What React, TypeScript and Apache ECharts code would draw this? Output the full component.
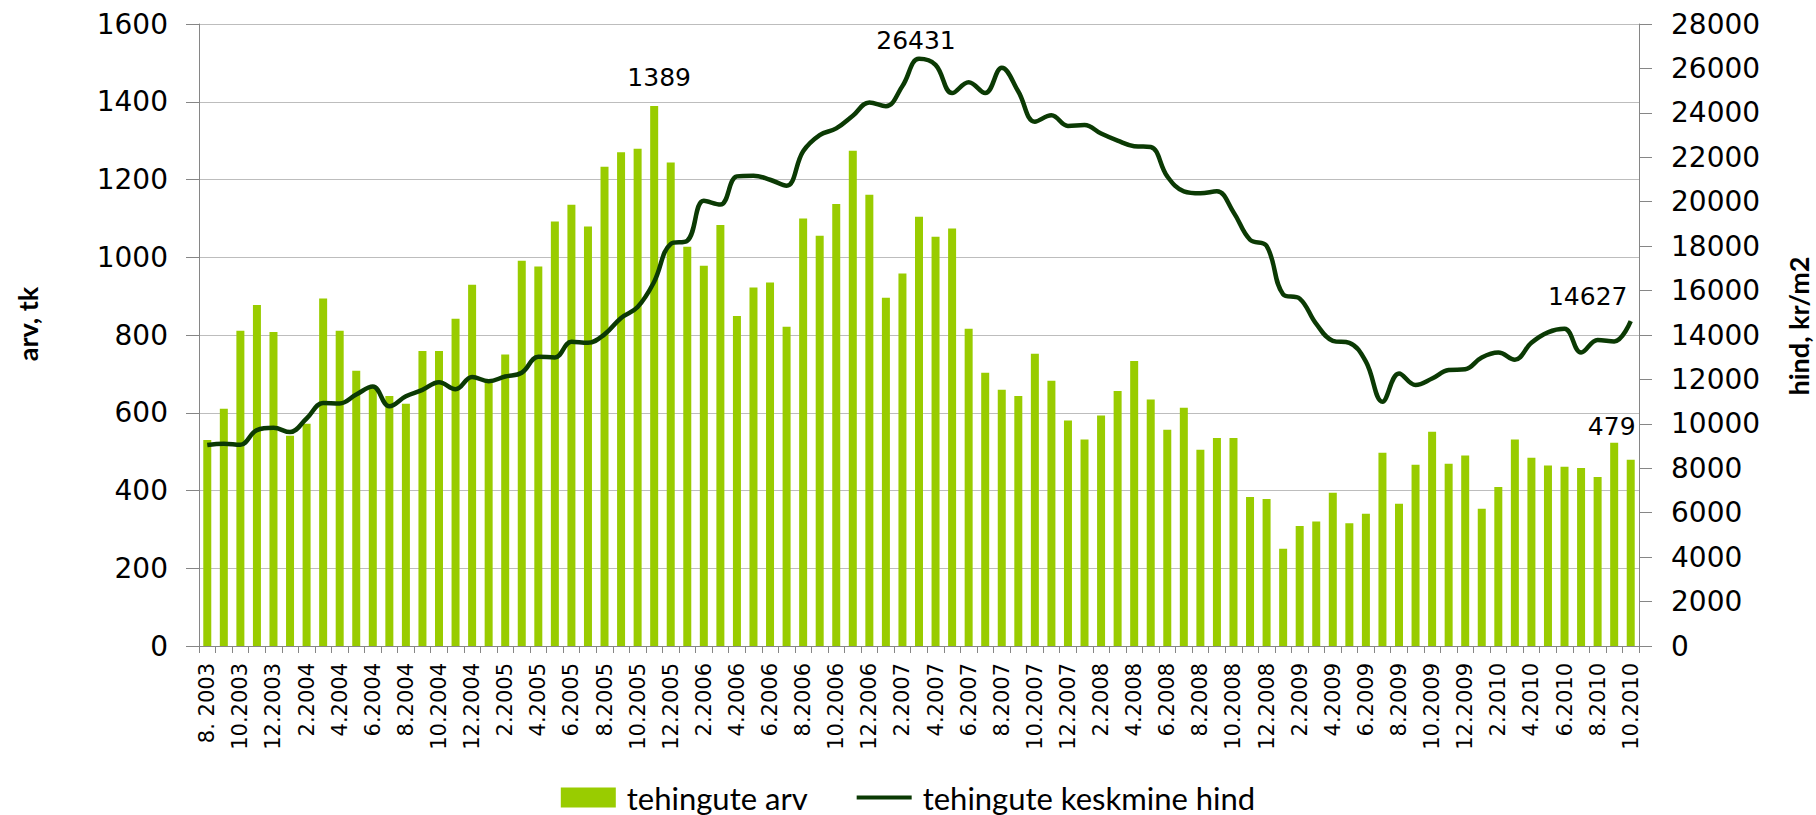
import React, { useEffect, useRef } from "react";
import * as echarts from "echarts";

const categories: string[] = [
  "8. 2003", "9.2003", "10.2003", "11.2003", "12.2003",
  "1.2004", "2.2004", "3.2004", "4.2004", "5.2004", "6.2004", "7.2004", "8.2004", "9.2004", "10.2004", "11.2004", "12.2004",
  "1.2005", "2.2005", "3.2005", "4.2005", "5.2005", "6.2005", "7.2005", "8.2005", "9.2005", "10.2005", "11.2005", "12.2005",
  "1.2006", "2.2006", "3.2006", "4.2006", "5.2006", "6.2006", "7.2006", "8.2006", "9.2006", "10.2006", "11.2006", "12.2006",
  "1.2007", "2.2007", "3.2007", "4.2007", "5.2007", "6.2007", "7.2007", "8.2007", "9.2007", "10.2007", "11.2007", "12.2007",
  "1.2008", "2.2008", "3.2008", "4.2008", "5.2008", "6.2008", "7.2008", "8.2008", "9.2008", "10.2008", "11.2008", "12.2008",
  "1.2009", "2.2009", "3.2009", "4.2009", "5.2009", "6.2009", "7.2009", "8.2009", "9.2009", "10.2009", "11.2009", "12.2009",
  "1.2010", "2.2010", "3.2010", "4.2010", "5.2010", "6.2010", "7.2010", "8.2010", "9.2010", "10.2010",
];

// tehingute arv (count of transactions)
const dealCount: number[] = [
  530, 610, 811, 877, 808,
  541, 572, 894, 811, 708, 668, 643, 623, 759, 759, 842, 929,
  682, 750, 991, 976, 1092, 1135, 1079, 1233, 1270, 1279, 1389, 1244,
  1027, 978, 1083, 849, 922, 935, 821, 1100, 1055, 1137, 1274, 1161,
  896, 958, 1104, 1053, 1074, 816, 703, 659, 643, 752, 682, 580,
  531, 593, 656, 733, 634, 556, 613, 505, 535, 535, 383, 378,
  250, 309, 320, 394, 316, 340, 497, 366, 466, 551, 469, 490,
  353, 409, 531, 484, 464, 461, 458, 435, 523, 479,
];

// tehingute keskmine hind (average price, kr/m2)
const avgPrice: number[] = [
  9050, 9110, 9060, 9720, 9820,
  9630, 10240, 10940, 10920, 11320, 11680, 10790, 11240, 11530, 11870, 11560, 12110,
  11920, 12130, 12300, 13020, 12990, 13700, 13650, 14030, 14770, 15260, 16400, 18100,
  18240, 20040, 19870, 21140, 21170, 20990, 20720, 22270, 23000, 23300, 23870, 24470,
  24300, 25210, 26431, 26160, 24890, 25380, 24890, 26030, 24960, 23600, 23890, 23410,
  23450, 23070, 22750, 22500, 22460, 21140, 20470, 20380, 20470, 19530, 18290, 18010,
  15830, 15640, 14500, 13740, 13650, 12800, 11000, 12270, 11750, 12040, 12420, 12460,
  12990, 13210, 12890, 13650, 14120, 14280, 13210, 13780, 13710, 14627,
];

const leftTicks = { min: 0, max: 1600, interval: 200 };
const rightTicks = { min: 0, max: 28000, interval: 2000 };

const seriesNames = ["tehingute arv", "tehingute keskmine hind"];
const leftAxisName = "arv, tk";
const rightAxisName = "hind, kr/m2";

const BAR_COLOR = "#99CC00";
const LINE_COLOR = "#0B3A04";
const AXIS_COLOR = "#868686";
const GRID_COLOR = "#BDBDBD";

const valueFont = "DejaVu Sans";

export default function App() {
  const ref = useRef<HTMLDivElement>(null);

  useEffect(() => {
    if (!ref.current) return;
    const chart = echarts.init(ref.current, null, { renderer: "svg" });

    const maxBarIdx = dealCount.indexOf(Math.max(...dealCount));
    const lastIdx = dealCount.length - 1;
    const maxLineIdx = avgPrice.indexOf(Math.max(...avgPrice));

    const labelStyle = {
      show: true,
      position: "top",
      fontFamily: valueFont,
      fontSize: 25,
      color: "#000",
    };

    const barData = dealCount.map((v, i) => {
      if (i === maxBarIdx) return { value: v, label: { ...labelStyle, offset: [5, -11] } };
      if (i === lastIdx) return { value: v, label: { ...labelStyle, offset: [-19, -16] } };
      return v;
    });
    const lineData = avgPrice.map((v, i) => {
      if (i === maxLineIdx) return { value: v, label: { ...labelStyle, offset: [-3, -1] } };
      if (i === lastIdx) return { value: v, label: { ...labelStyle, offset: [-43, -7] } };
      return v;
    });

    const plain = (v: number) => String(v);

    const nameStyle = {
      fontFamily: "Lato",
      fontWeight: "bold",
      fontSize: 27,
      fill: "#000",
      textAlign: "center",
      textVerticalAlign: "middle",
    };

    chart.setOption({
      animation: false,
      backgroundColor: "#ffffff",
      grid: { left: 199, right: 177, top: 24, bottom: 169, containLabel: false },
      graphic: [
        { type: "text", x: 27, y: 324, rotation: Math.PI / 2, style: { ...nameStyle, text: leftAxisName } },
        { type: "text", x: 1798, y: 326, rotation: Math.PI / 2, style: { ...nameStyle, text: rightAxisName } },
      ],
      legend: {
        left: "center",
        top: 777,
        itemWidth: 55,
        itemHeight: 20,
        itemGap: 49,
        textStyle: { fontFamily: "Lato", fontSize: 31, color: "#000", padding: [0, 0, 0, 6] },
        data: [
          { name: seriesNames[0], icon: "rect" },
          { name: seriesNames[1], icon: "path://M0,0L57,0L57,4L0,4Z" },
        ],
      },
      xAxis: {
        type: "category",
        data: categories,
        boundaryGap: true,
        axisLine: { lineStyle: { color: AXIS_COLOR, width: 1 } },
        axisTick: { show: true, interval: 0, length: 7, lineStyle: { color: AXIS_COLOR } },
        axisLabel: {
          interval: 1,
          rotate: 90,
          margin: 17,
          fontFamily: valueFont,
          fontSize: 21,
          color: "#000",
        },
        splitLine: { show: false },
      },
      yAxis: [
        {
          type: "value",
          min: leftTicks.min,
          max: leftTicks.max,
          interval: leftTicks.interval,
          axisLine: { show: true, lineStyle: { color: AXIS_COLOR } },
          axisTick: { show: true, length: 13, lineStyle: { color: AXIS_COLOR } },
          axisLabel: { margin: 31, fontFamily: valueFont, fontSize: 28, color: "#000", formatter: plain },
          splitLine: { show: true, lineStyle: { color: GRID_COLOR, width: 1 } },
        },
        {
          type: "value",
          position: "right",
          min: rightTicks.min,
          max: rightTicks.max,
          interval: rightTicks.interval,
          axisLine: { show: true, lineStyle: { color: AXIS_COLOR } },
          axisTick: { show: true, length: 13, lineStyle: { color: AXIS_COLOR } },
          axisLabel: { margin: 32, fontFamily: valueFont, fontSize: 28, color: "#000", formatter: plain },
          splitLine: { show: false },
        },
      ],
      series: [
        {
          name: seriesNames[0],
          type: "bar",
          yAxisIndex: 0,
          data: barData,
          barWidth: 8,
          itemStyle: { color: BAR_COLOR },
        },
        {
          name: seriesNames[1],
          type: "line",
          yAxisIndex: 1,
          data: lineData,
          smooth: 0.4,
          symbol: "circle",
          symbolSize: 0.5,
          showSymbol: true,
          lineStyle: { color: LINE_COLOR, width: 4.5 },
          itemStyle: { color: LINE_COLOR },
          z: 3,
        },
      ],
    });

    return () => {
      chart.dispose();
    };
  }, []);

  return (
    <div
      ref={ref}
      style={{ position: "fixed", left: 0, top: 0, width: 1816, height: 815, background: "#fff" }}
    />
  );
}
